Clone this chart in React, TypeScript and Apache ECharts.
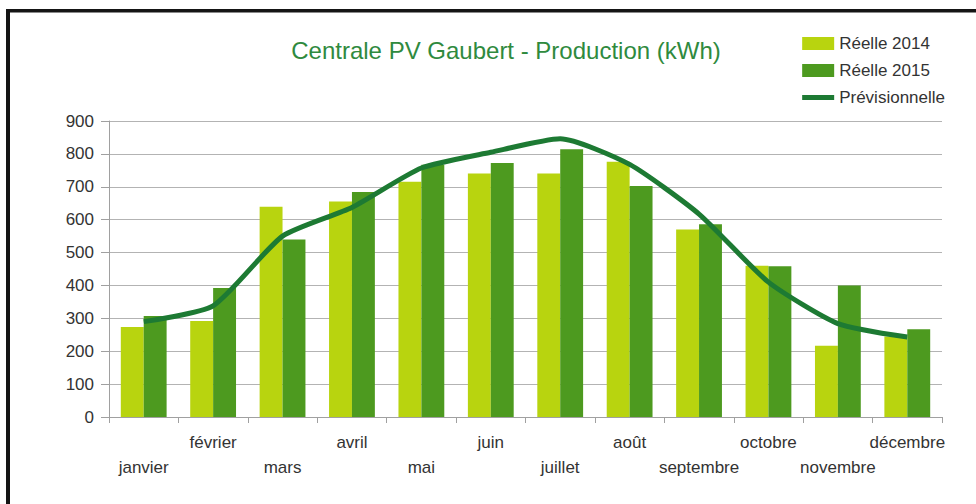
import React, { useEffect, useRef } from "react";
import * as echarts from "echarts";

const months = ["janvier", "février", "mars", "avril", "mai", "juin", "juillet", "août", "septembre", "octobre", "novembre", "décembre"];
const reelle2014 = [274, 292, 639, 655, 715, 740, 740, 776, 570, 460, 217, 245];
const reelle2015 = [307, 392, 540, 684, 767, 772, 814, 702, 586, 458, 400, 267];
const previsionnelle = [290, 338, 550, 637, 757, 805, 846, 768, 617, 410, 284, 243];
const titleText = "Centrale PV Gaubert - Production (kWh)";

const FONT = "'Liberation Sans', Arial, sans-serif";
const NARROW = "'Liberation Sans Narrow', 'Arial Narrow', 'Liberation Sans', sans-serif";

export default function App() {
  const ref = useRef<HTMLDivElement>(null);
  useEffect(() => {
    if (!ref.current) return;
    const chart = echarts.init(ref.current, null, { renderer: "svg" });
    chart.setOption({
      animation: false,
      backgroundColor: "#ffffff",
      textStyle: { fontFamily: FONT },
      title: {
        text: titleText,
        left: 501,
        textAlign: "center",
        top: 33,
        textStyle: { color: "#2f8a3e", fontSize: 24, fontWeight: "normal", fontFamily: FONT },
      },
      legend: {
        orient: "vertical",
        right: 26,
        top: 30,
        itemWidth: 32,
        itemHeight: 13,
        itemGap: 10,
        textStyle: { color: "#333333", fontSize: 17, fontFamily: NARROW },
        data: [
          { name: "Réelle 2014", icon: "rect" },
          { name: "Réelle 2015", icon: "rect" },
          { name: "Prévisionnelle", itemStyle: { opacity: 0 }, lineStyle: { width: 5, color: "#1d7a33" } },
        ],
      },
      grid: { left: 109, right: 34, top: 121, bottom: 87, containLabel: false },
      xAxis: {
        type: "category",
        data: months,
        axisLine: { lineStyle: { color: "#a0a0a0", width: 1 } },
        axisTick: { show: true, length: 6, lineStyle: { color: "#a0a0a0" } },
        axisLabel: {
          interval: 0,
          margin: 13,
          color: "#333333",
          fontSize: 17,
          fontFamily: FONT,
          lineHeight: 25,
          verticalAlign: "top",
          formatter: (v: string, i: number) => (i % 2 === 0 ? "\n" + v : v),
        },
      },
      yAxis: {
        type: "value",
        min: 0,
        max: 900,
        interval: 100,
        axisLine: { show: true, lineStyle: { color: "#a0a0a0", width: 1 } },
        axisTick: { show: true, length: 8, lineStyle: { color: "#a0a0a0" } },
        splitLine: { lineStyle: { color: "#b3b3b3", width: 1 } },
        axisLabel: { color: "#333333", fontSize: 17, fontFamily: FONT, margin: 15 },
      },
      series: [
        {
          name: "Réelle 2014",
          type: "bar",
          data: reelle2014,
          barGap: "0%",
          barCategoryGap: "34%",
          itemStyle: { color: "#b8d40f" },
        },
        {
          name: "Réelle 2015",
          type: "bar",
          data: reelle2015,
          barGap: "0%",
          barCategoryGap: "34%",
          itemStyle: { color: "#4d9a1f" },
        },
        {
          name: "Prévisionnelle",
          type: "line",
          data: previsionnelle,
          symbol: "none",
          smooth: 0.2,
          lineStyle: { color: "#1d7a33", width: 5 },
          itemStyle: { color: "#1d7a33" },
          z: 5,
        },
      ],
      graphic: [
        { type: "rect", shape: { x: 6, y: 9, width: 970, height: 3.5 }, style: { fill: "#151515" }, silent: true },
        { type: "rect", shape: { x: 6, y: 9, width: 4, height: 495 }, style: { fill: "#151515" }, silent: true },
      ],
    });
    return () => chart.dispose();
  }, []);
  return (
    <div style={{ position: "fixed", left: 0, top: 0, width: 976, height: 504, background: "#fff" }}>
      <div ref={ref} style={{ width: 976, height: 504 }} />
    </div>
  );
}
